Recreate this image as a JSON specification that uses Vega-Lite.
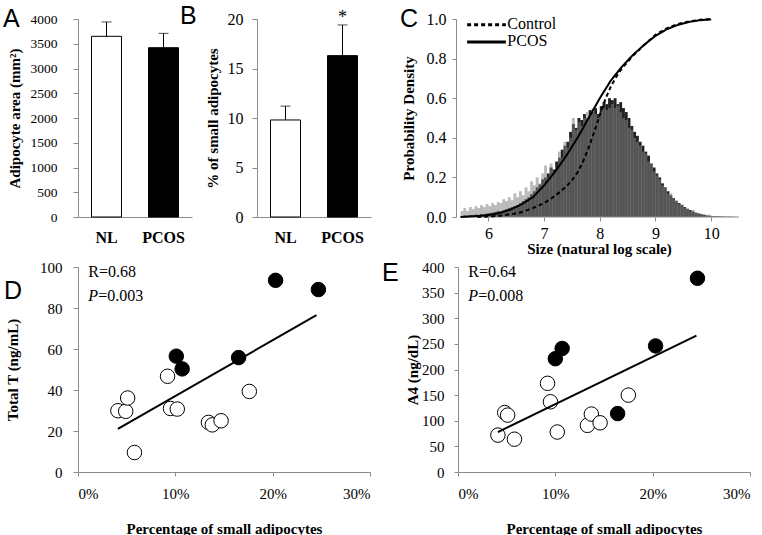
{
  "$schema": "https://vega.github.io/schema/vega-lite/v6.json",
  "background": "white",
  "padding": {"left": 3, "top": 3, "right": 5, "bottom": 0},
  "config": {
    "view": {"stroke": null},
    "font": "Liberation Serif",
    "axis": {"domainColor": "#8a8a8a", "tickColor": "#8a8a8a", "labelColor": "black", "titleColor": "black", "grid": false, "labelFont": "Liberation Serif", "titleFont": "Liberation Serif", "titleFontWeight": "bold", "labelFontSize": 15, "titleFontSize": 15, "tickSize": 5, "labelOverlap": false},
    "title": {"font": "Liberation Sans", "fontSize": 25, "fontWeight": "normal", "anchor": "start", "frame": "group", "baseline": "top", "offset": 0, "color": "black"}
  },
  "spacing": 4,
  "vconcat": [
    {
      "bounds": "flush",
      "spacing": 65,
      "hconcat": [
        {
          "width": 114, "height": 198,
          "title": {"text": "A", "dx": -75, "dy": 24},
          "data": {"values": [{"g": "NL", "v": 3650, "e": 3940}, {"g": "PCOS", "v": 3420, "e": 3710}]},
          "encoding": {"x": {"field": "g", "type": "nominal", "sort": null, "title": null, "scale": {"paddingInner": 0.474, "paddingOuter": 0.237}, "axis": {"ticks": false, "labelAngle": 0, "labelFontWeight": "bold", "labelFontSize": 16, "labelPadding": 12}}},
          "layer": [
            {"mark": {"type": "bar", "stroke": "black", "strokeWidth": 1}, "encoding": {"y": {"field": "v", "type": "quantitative", "scale": {"domain": [0, 4000]}, "axis": {"values": [0, 500, 1000, 1500, 2000, 2500, 3000, 3500, 4000], "tickCount": 9, "labelOverlap": false, "format": "d", "labelFontSize": 13.5, "labelPadding": 16, "titlePadding": 8, "title": "Adipocyte area (mm²)"}}, "fill": {"field": "g", "type": "nominal", "scale": {"domain": ["NL", "PCOS"], "range": ["white", "black"]}, "legend": null}}},
            {"mark": {"type": "rule", "color": "black", "strokeWidth": 1}, "encoding": {"y": {"field": "v", "type": "quantitative"}, "y2": {"field": "e"}}},
            {"mark": {"type": "tick", "color": "black", "size": 10, "thickness": 1}, "encoding": {"y": {"field": "e", "type": "quantitative"}}}
          ]
        },
        {
          "width": 114, "height": 198,
          "title": {"text": "B", "dx": -77, "dy": 24},
          "data": {"values": [{"g": "NL", "v": 9.8, "e": 11.2}, {"g": "PCOS", "v": 16.3, "e": 19.4}]},
          "encoding": {"x": {"field": "g", "type": "nominal", "sort": null, "title": null, "scale": {"paddingInner": 0.474, "paddingOuter": 0.237}, "axis": {"ticks": false, "labelAngle": 0, "labelFontWeight": "bold", "labelFontSize": 16, "labelPadding": 12}}},
          "layer": [
            {"mark": {"type": "bar", "stroke": "black", "strokeWidth": 1}, "encoding": {"y": {"field": "v", "type": "quantitative", "scale": {"domain": [0, 20]}, "axis": {"values": [0, 5, 10, 15, 20], "labelOverlap": false, "labelFontSize": 16, "labelPadding": 9, "titlePadding": 7, "title": "% of small adipocytes"}}, "fill": {"field": "g", "type": "nominal", "scale": {"domain": ["NL", "PCOS"], "range": ["white", "black"]}, "legend": null}}},
            {"mark": {"type": "rule", "color": "black", "strokeWidth": 1}, "encoding": {"y": {"field": "v", "type": "quantitative"}, "y2": {"field": "e"}}},
            {"mark": {"type": "tick", "color": "black", "size": 10, "thickness": 1}, "encoding": {"y": {"field": "e", "type": "quantitative"}}},
            {"data": {"values": [{"g": "PCOS", "y": 19.6, "t": "*"}]}, "mark": {"type": "text", "fontSize": 18, "baseline": "alphabetic", "align": "center", "font": "Liberation Serif"}, "encoding": {"y": {"field": "y", "type": "quantitative"}, "text": {"field": "t"}}}
          ]
        },
        {
          "width": 308, "height": 198,
          "title": {"text": "C", "dx": -36, "dy": 25},
          "layer": [
            {
              "data": {"name": "hist"},
              "mark": {"type": "bar", "width": 2.9, "color": "#222222"},
              "encoding": {
                "x": {"field": "x", "type": "quantitative", "scale": {"domain": [5.148, 10.5], "nice": false, "zero": false}, "axis": {"values": [6, 7, 8, 9, 10], "labelOverlap": false, "format": "d", "domain": false, "labelFontSize": 16, "tickSize": 4, "labelPadding": 4, "titlePadding": 0, "titleX": 163, "title": "Size (natural log scale)"}},
                "y": {"field": "c", "type": "quantitative", "scale": {"domain": [0, 1]}, "axis": {"values": [0, 0.2, 0.4, 0.6, 0.8, 1.0], "tickCount": 6, "labelOverlap": false, "format": ".1f", "offset": -20, "labelFontSize": 16, "tickSize": 4, "labelPadding": 6, "titlePadding": 10, "title": "Probability Density"}}
              }
            },
            {
              "data": {"name": "hist"},
              "mark": {"type": "bar", "width": 2.9, "color": "#818181", "opacity": 0.54},
              "encoding": {"x": {"field": "x", "type": "quantitative"}, "y": {"field": "p", "type": "quantitative"}}
            },
            {
              "data": {"values": [{"x": 5.5, "x2": 10.5, "y": 0}]},
              "mark": {"type": "rule", "color": "#8a8a8a", "strokeWidth": 1},
              "encoding": {"x": {"field": "x", "type": "quantitative"}, "x2": {"field": "x2"}, "y": {"field": "y", "type": "quantitative"}}
            },
            {
              "data": {"name": "cdf"},
              "mark": {"type": "line", "color": "black", "strokeWidth": 2},
              "encoding": {
                "x": {"field": "x", "type": "quantitative"},
                "y": {"field": "y", "type": "quantitative"},
                "strokeDash": {"field": "s", "type": "nominal", "scale": {"domain": ["Control", "PCOS"], "range": [[4, 3], [1, 0]]}, "legend": null}
              }
            },
            {
              "data": {"values": [{"s": "Control", "x": 5.617, "x2": 6.313, "y": 0.971}, {"s": "PCOS", "x": 5.617, "x2": 6.313, "y": 0.884}]},
              "mark": {"type": "rule", "color": "black", "strokeWidth": 3},
              "encoding": {
                "x": {"field": "x", "type": "quantitative"}, "x2": {"field": "x2"}, "y": {"field": "y", "type": "quantitative"},
                "strokeDash": {"field": "s", "type": "nominal", "legend": null}
              }
            },
            {
              "data": {"values": [{"s": "Control", "x": 6.34, "y": 0.975}, {"s": "PCOS", "x": 6.34, "y": 0.888}]},
              "mark": {"type": "text", "align": "left", "baseline": "middle", "fontSize": 16, "font": "Liberation Serif", "color": "black"},
              "encoding": {"x": {"field": "x", "type": "quantitative"}, "y": {"field": "y", "type": "quantitative"}, "text": {"field": "s"}}
            }
          ]
        }
      ]
    },
    {
      "bounds": "flush",
      "spacing": 88,
      "hconcat": [
        {
          "width": 292, "height": 205,
          "title": {"text": "D", "dx": -74, "dy": 48},
          "layer": [
            {
              "data": {"name": "scatD"},
              "mark": {"type": "point", "shape": "circle", "filled": true, "size": 210, "stroke": "black", "strokeWidth": 1, "opacity": 1},
              "encoding": {
                "x": {"field": "x", "type": "quantitative", "scale": {"domain": [0, 30], "nice": false}, "axis": {"values": [0, 10, 20, 30], "labelOverlap": false, "labelExpr": "datum.value + '%'", "tickSize": 4, "labelPadding": 10, "titlePadding": 20, "title": "Percentage of small adipocytes"}},
                "y": {"field": "y", "type": "quantitative", "scale": {"domain": [0, 100], "nice": false}, "axis": {"values": [0, 20, 40, 60, 80, 100], "labelOverlap": false, "tickSize": 5, "labelPadding": 11, "titlePadding": 19, "title": "Total T (ng/mL)"}},
                "fill": {"field": "g", "type": "nominal", "scale": {"domain": ["NL", "PCOS"], "range": ["white", "black"]}, "legend": null}
              }
            },
            {
              "data": {"values": [{"x": 4.1, "y": 21}, {"x": 24.5, "y": 76.5}]},
              "mark": {"type": "line", "color": "black", "strokeWidth": 2},
              "encoding": {"x": {"field": "x", "type": "quantitative"}, "y": {"field": "y", "type": "quantitative"}}
            },
            {
              "data": {"values": [{"x": 1.05, "y": 97.5, "t": "R=0.68"}, {"x": 1.05, "y": 86, "t": "P"}]},
              "mark": {"type": "text", "align": "left", "baseline": "middle", "fontSize": 16, "font": "Liberation Serif", "fontStyle": {"expr": "datum.t == 'P' ? 'italic' : 'normal'"}},
              "encoding": {"x": {"field": "x", "type": "quantitative"}, "y": {"field": "y", "type": "quantitative"}, "text": {"field": "t"}}
            },
            {
              "data": {"values": [{"x": 1.05, "y": 86, "t": "=0.003"}]},
              "mark": {"type": "text", "align": "left", "baseline": "middle", "fontSize": 16, "font": "Liberation Serif", "dx": 10},
              "encoding": {"x": {"field": "x", "type": "quantitative"}, "y": {"field": "y", "type": "quantitative"}, "text": {"field": "t"}}
            }
          ]
        },
        {
          "width": 292, "height": 205,
          "title": {"text": "E", "dx": -76, "dy": 30},
          "layer": [
            {
              "data": {"name": "scatE"},
              "mark": {"type": "point", "shape": "circle", "filled": true, "size": 210, "stroke": "black", "strokeWidth": 1, "opacity": 1},
              "encoding": {
                "x": {"field": "x", "type": "quantitative", "scale": {"domain": [0, 30], "nice": false}, "axis": {"values": [0, 10, 20, 30], "labelOverlap": false, "labelExpr": "datum.value + '%'", "tickSize": 4, "labelPadding": 10, "titlePadding": 20, "title": "Percentage of small adipocytes"}},
                "y": {"field": "y", "type": "quantitative", "scale": {"domain": [0, 400], "nice": false}, "axis": {"values": [0, 50, 100, 150, 200, 250, 300, 350, 400], "tickCount": 9, "labelOverlap": false, "tickSize": 4, "labelPadding": 10, "titlePadding": 1, "title": "A4 (ng/dL)"}},
                "fill": {"field": "g", "type": "nominal", "scale": {"domain": ["NL", "PCOS"], "range": ["white", "black"]}, "legend": null}
              }
            },
            {
              "data": {"values": [{"x": 4.1, "y": 78}, {"x": 24.5, "y": 266}]},
              "mark": {"type": "line", "color": "black", "strokeWidth": 2},
              "encoding": {"x": {"field": "x", "type": "quantitative"}, "y": {"field": "y", "type": "quantitative"}}
            },
            {
              "data": {"values": [{"x": 1.05, "y": 390, "t": "R=0.64"}, {"x": 1.05, "y": 344, "t": "P"}]},
              "mark": {"type": "text", "align": "left", "baseline": "middle", "fontSize": 16, "font": "Liberation Serif", "fontStyle": {"expr": "datum.t == 'P' ? 'italic' : 'normal'"}},
              "encoding": {"x": {"field": "x", "type": "quantitative"}, "y": {"field": "y", "type": "quantitative"}, "text": {"field": "t"}}
            },
            {
              "data": {"values": [{"x": 1.05, "y": 344, "t": "=0.008"}]},
              "mark": {"type": "text", "align": "left", "baseline": "middle", "fontSize": 16, "font": "Liberation Serif", "dx": 10},
              "encoding": {"x": {"field": "x", "type": "quantitative"}, "y": {"field": "y", "type": "quantitative"}, "text": {"field": "t"}}
            }
          ]
        }
      ]
    }
  ],
  "datasets": {
    "scatD": [
      {"x": 4.1, "y": 29.9, "g": "NL"}, {"x": 4.9, "y": 29.6, "g": "NL"}, {"x": 5.1, "y": 36.1, "g": "NL"}, {"x": 5.8, "y": 9.5, "g": "NL"},
      {"x": 9.2, "y": 46.7, "g": "NL"}, {"x": 9.5, "y": 31, "g": "NL"}, {"x": 10.2, "y": 30.7, "g": "NL"}, {"x": 13.4, "y": 24.2, "g": "NL"},
      {"x": 13.8, "y": 23, "g": "NL"}, {"x": 14.7, "y": 25, "g": "NL"}, {"x": 17.6, "y": 39.3, "g": "NL"},
      {"x": 10.1, "y": 56.5, "g": "PCOS"}, {"x": 10.7, "y": 50.3, "g": "PCOS"}, {"x": 16.5, "y": 55.8, "g": "PCOS"}, {"x": 20.3, "y": 93.5, "g": "PCOS"}, {"x": 24.7, "y": 89, "g": "PCOS"}
    ],
    "scatE": [
      {"x": 4.1, "y": 72, "g": "NL"}, {"x": 4.8, "y": 116, "g": "NL"}, {"x": 5.1, "y": 111, "g": "NL"}, {"x": 5.8, "y": 64, "g": "NL"},
      {"x": 9.2, "y": 173, "g": "NL"}, {"x": 9.5, "y": 137, "g": "NL"}, {"x": 10.2, "y": 78, "g": "NL"}, {"x": 13.3, "y": 91, "g": "NL"},
      {"x": 13.7, "y": 113, "g": "NL"}, {"x": 14.6, "y": 96, "g": "NL"}, {"x": 17.5, "y": 150, "g": "NL"},
      {"x": 10.0, "y": 221, "g": "PCOS"}, {"x": 10.7, "y": 241, "g": "PCOS"}, {"x": 16.4, "y": 114, "g": "PCOS"}, {"x": 20.3, "y": 246, "g": "PCOS"}, {"x": 24.6, "y": 378, "g": "PCOS"}
    ],
    "cdf": [
      {"s": "PCOS", "x": 5.5, "y": 0.0}, {"s": "PCOS", "x": 5.8, "y": 0.005}, {"s": "PCOS", "x": 6.0, "y": 0.01}, {"s": "PCOS", "x": 6.2, "y": 0.02},
      {"s": "PCOS", "x": 6.4, "y": 0.038}, {"s": "PCOS", "x": 6.6, "y": 0.065}, {"s": "PCOS", "x": 6.8, "y": 0.1}, {"s": "PCOS", "x": 7.0, "y": 0.16},
      {"s": "PCOS", "x": 7.2, "y": 0.23}, {"s": "PCOS", "x": 7.4, "y": 0.31}, {"s": "PCOS", "x": 7.6, "y": 0.4}, {"s": "PCOS", "x": 7.8, "y": 0.5},
      {"s": "PCOS", "x": 8.0, "y": 0.6}, {"s": "PCOS", "x": 8.2, "y": 0.69}, {"s": "PCOS", "x": 8.4, "y": 0.76}, {"s": "PCOS", "x": 8.6, "y": 0.82},
      {"s": "PCOS", "x": 8.8, "y": 0.87}, {"s": "PCOS", "x": 9.0, "y": 0.915}, {"s": "PCOS", "x": 9.2, "y": 0.948}, {"s": "PCOS", "x": 9.4, "y": 0.97},
      {"s": "PCOS", "x": 9.6, "y": 0.985}, {"s": "PCOS", "x": 9.8, "y": 0.994}, {"s": "PCOS", "x": 10.0, "y": 0.998},
      {"s": "Control", "x": 5.8, "y": 0.0}, {"s": "Control", "x": 6.0, "y": 0.002}, {"s": "Control", "x": 6.2, "y": 0.006}, {"s": "Control", "x": 6.4, "y": 0.013},
      {"s": "Control", "x": 6.6, "y": 0.025}, {"s": "Control", "x": 6.8, "y": 0.045}, {"s": "Control", "x": 7.0, "y": 0.07}, {"s": "Control", "x": 7.1, "y": 0.088},
      {"s": "Control", "x": 7.2, "y": 0.108}, {"s": "Control", "x": 7.3, "y": 0.13}, {"s": "Control", "x": 7.4, "y": 0.155}, {"s": "Control", "x": 7.5, "y": 0.185},
      {"s": "Control", "x": 7.6, "y": 0.225}, {"s": "Control", "x": 7.7, "y": 0.28}, {"s": "Control", "x": 7.8, "y": 0.35}, {"s": "Control", "x": 7.9, "y": 0.43},
      {"s": "Control", "x": 8.0, "y": 0.515}, {"s": "Control", "x": 8.1, "y": 0.595}, {"s": "Control", "x": 8.2, "y": 0.66}, {"s": "Control", "x": 8.3, "y": 0.71},
      {"s": "Control", "x": 8.4, "y": 0.752}, {"s": "Control", "x": 8.6, "y": 0.815},
      {"s": "Control", "x": 8.8, "y": 0.87}, {"s": "Control", "x": 9.0, "y": 0.92}, {"s": "Control", "x": 9.2, "y": 0.953}, {"s": "Control", "x": 9.4, "y": 0.975},
      {"s": "Control", "x": 9.6, "y": 0.988}, {"s": "Control", "x": 9.8, "y": 0.996}, {"s": "Control", "x": 10.0, "y": 1.0}
    ],
    "hist": [
      {"x": 5.525, "c": 0.005, "p": 0.03}, {"x": 5.575, "c": 0.008, "p": 0.045}, {"x": 5.625, "c": 0.006, "p": 0.03}, {"x": 5.675, "c": 0.01, "p": 0.05},
      {"x": 5.725, "c": 0.008, "p": 0.04}, {"x": 5.775, "c": 0.012, "p": 0.055}, {"x": 5.825, "c": 0.01, "p": 0.045}, {"x": 5.875, "c": 0.015, "p": 0.06},
      {"x": 5.925, "c": 0.012, "p": 0.05}, {"x": 5.975, "c": 0.018, "p": 0.065}, {"x": 6.025, "c": 0.02, "p": 0.055}, {"x": 6.075, "c": 0.022, "p": 0.07},
      {"x": 6.125, "c": 0.025, "p": 0.06}, {"x": 6.175, "c": 0.03, "p": 0.075}, {"x": 6.225, "c": 0.028, "p": 0.07}, {"x": 6.275, "c": 0.035, "p": 0.09},
      {"x": 6.325, "c": 0.04, "p": 0.08}, {"x": 6.375, "c": 0.045, "p": 0.1}, {"x": 6.425, "c": 0.05, "p": 0.085}, {"x": 6.475, "c": 0.055, "p": 0.12},
      {"x": 6.525, "c": 0.06, "p": 0.1}, {"x": 6.575, "c": 0.07, "p": 0.13}, {"x": 6.625, "c": 0.08, "p": 0.11}, {"x": 6.675, "c": 0.09, "p": 0.15},
      {"x": 6.725, "c": 0.1, "p": 0.13}, {"x": 6.775, "c": 0.115, "p": 0.18}, {"x": 6.825, "c": 0.13, "p": 0.16}, {"x": 6.875, "c": 0.15, "p": 0.2},
      {"x": 6.925, "c": 0.165, "p": 0.17}, {"x": 6.975, "c": 0.19, "p": 0.22}, {"x": 7.025, "c": 0.2, "p": 0.26}, {"x": 7.075, "c": 0.22, "p": 0.2},
      {"x": 7.125, "c": 0.25, "p": 0.27}, {"x": 7.175, "c": 0.24, "p": 0.23}, {"x": 7.225, "c": 0.28, "p": 0.25}, {"x": 7.275, "c": 0.3, "p": 0.33},
      {"x": 7.325, "c": 0.34, "p": 0.3}, {"x": 7.375, "c": 0.36, "p": 0.38}, {"x": 7.425, "c": 0.38, "p": 0.35}, {"x": 7.475, "c": 0.43, "p": 0.4},
      {"x": 7.525, "c": 0.47, "p": 0.5}, {"x": 7.575, "c": 0.45, "p": 0.44}, {"x": 7.625, "c": 0.5, "p": 0.48}, {"x": 7.675, "c": 0.49, "p": 0.46},
      {"x": 7.725, "c": 0.52, "p": 0.5}, {"x": 7.775, "c": 0.5, "p": 0.53}, {"x": 7.825, "c": 0.54, "p": 0.51}, {"x": 7.875, "c": 0.53, "p": 0.55},
      {"x": 7.925, "c": 0.55, "p": 0.52}, {"x": 7.975, "c": 0.52, "p": 0.5}, {"x": 8.025, "c": 0.56, "p": 0.53}, {"x": 8.075, "c": 0.58, "p": 0.55},
      {"x": 8.125, "c": 0.57, "p": 0.54}, {"x": 8.175, "c": 0.6, "p": 0.55}, {"x": 8.225, "c": 0.59, "p": 0.57}, {"x": 8.275, "c": 0.6, "p": 0.55},
      {"x": 8.325, "c": 0.57, "p": 0.56}, {"x": 8.375, "c": 0.58, "p": 0.53}, {"x": 8.425, "c": 0.55, "p": 0.5}, {"x": 8.475, "c": 0.53, "p": 0.49},
      {"x": 8.525, "c": 0.5, "p": 0.45}, {"x": 8.575, "c": 0.46, "p": 0.44}, {"x": 8.625, "c": 0.43, "p": 0.4}, {"x": 8.675, "c": 0.41, "p": 0.38},
      {"x": 8.725, "c": 0.38, "p": 0.36}, {"x": 8.775, "c": 0.36, "p": 0.33}, {"x": 8.825, "c": 0.33, "p": 0.32}, {"x": 8.875, "c": 0.31, "p": 0.28},
      {"x": 8.925, "c": 0.27, "p": 0.27}, {"x": 8.975, "c": 0.25, "p": 0.23}, {"x": 9.025, "c": 0.22, "p": 0.21}, {"x": 9.075, "c": 0.2, "p": 0.19},
      {"x": 9.125, "c": 0.17, "p": 0.16}, {"x": 9.175, "c": 0.15, "p": 0.15}, {"x": 9.225, "c": 0.13, "p": 0.12}, {"x": 9.275, "c": 0.11, "p": 0.12},
      {"x": 9.325, "c": 0.095, "p": 0.09}, {"x": 9.375, "c": 0.08, "p": 0.085}, {"x": 9.425, "c": 0.07, "p": 0.065}, {"x": 9.475, "c": 0.06, "p": 0.065},
      {"x": 9.525, "c": 0.05, "p": 0.045}, {"x": 9.575, "c": 0.04, "p": 0.045}, {"x": 9.625, "c": 0.035, "p": 0.03}, {"x": 9.675, "c": 0.028, "p": 0.035},
      {"x": 9.725, "c": 0.022, "p": 0.02}, {"x": 9.775, "c": 0.018, "p": 0.02}, {"x": 9.825, "c": 0.014, "p": 0.012}, {"x": 9.875, "c": 0.01, "p": 0.015},
      {"x": 9.925, "c": 0.008, "p": 0.007}, {"x": 9.975, "c": 0.006, "p": 0.012}, {"x": 10.025, "c": 0.004, "p": 0.005}, {"x": 10.075, "c": 0.003, "p": 0.004},
      {"x": 10.125, "c": 0.003, "p": 0.003}, {"x": 10.175, "c": 0.002, "p": 0.002}, {"x": 10.225, "c": 0.002, "p": 0.003}, {"x": 10.275, "c": 0.001, "p": 0.001},
      {"x": 10.325, "c": 0.001, "p": 0.002}, {"x": 10.375, "c": 0.001, "p": 0.001}, {"x": 10.425, "c": 0.0, "p": 0.001}, {"x": 10.475, "c": 0.0, "p": 0.0}
    ]
  }
}
